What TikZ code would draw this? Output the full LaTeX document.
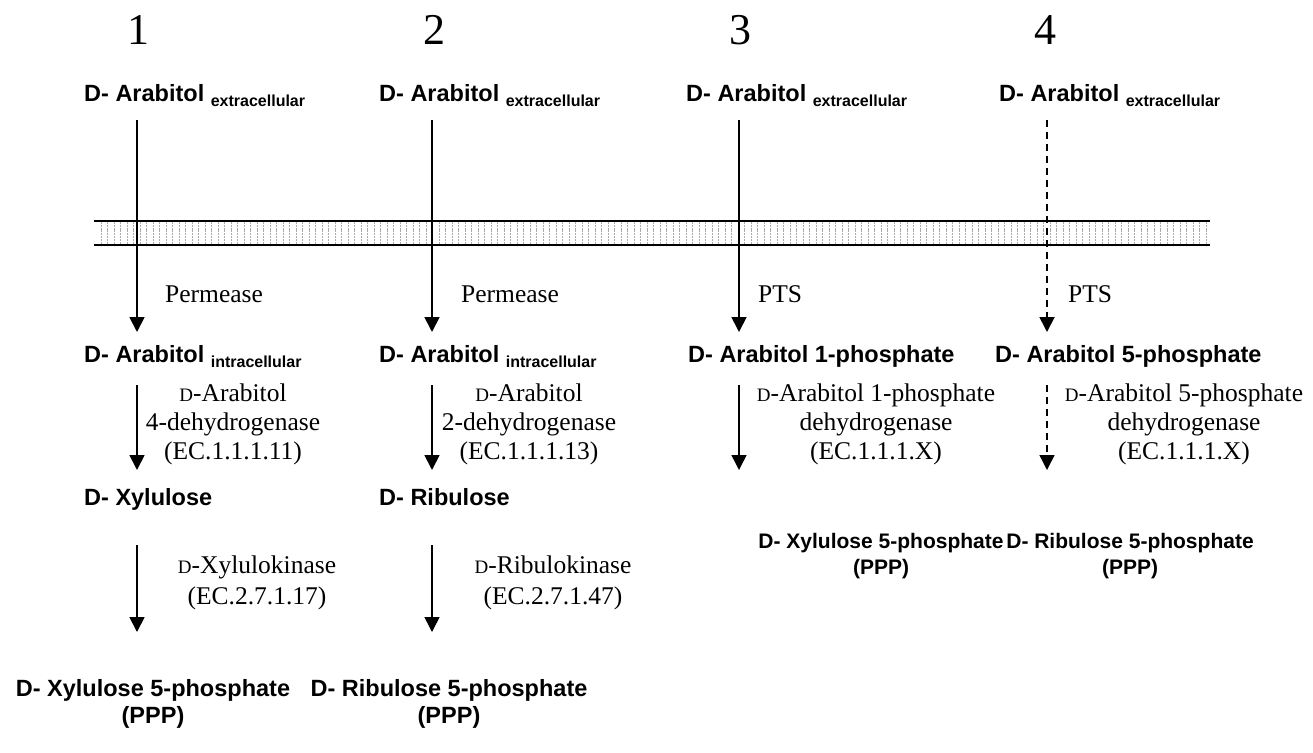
\documentclass[tikz,border=0pt]{standalone}
\usepackage{fontspec}
\setmainfont{Liberation Serif}
\newfontfamily\hv{Liberation Sans}
\usetikzlibrary{arrows.meta}
\newcommand\sD{{\fontsize{19}{19}\selectfont D}}
\newcommand\sub[1]{\raisebox{-5pt}{\fontsize{16}{16}\selectfont #1}}
\tikzset{
  cmpd/.style={font=\hv\bfseries\fontsize{23.5}{27}\selectfont, inner sep=0pt},
  cmpdc/.style={cmpd, align=center, anchor=north},
  cmpds/.style={font=\hv\bfseries\fontsize{21}{26}\selectfont, inner sep=0pt, align=center, anchor=north},
  enz/.style={font=\fontsize{25.5}{29}\selectfont, inner sep=0pt, align=center, anchor=north},
  kin/.style={font=\fontsize{25.5}{31}\selectfont, inner sep=0pt, align=center, anchor=north},
  num/.style={font=\fontsize{44}{44}\selectfont, inner sep=0pt, anchor=base},
  tlabel/.style={font=\fontsize{25.5}{29}\selectfont, inner sep=0pt, anchor=base west},
  rxn/.style={line width=1.8pt, -{Triangle[width=15pt,length=15pt]}},
  rxnthin/.style={line width=1.5pt, -{Triangle[width=15pt,length=15pt]}},
  dsh/.style={dash pattern=on 7pt off 5pt},
  memline/.style={line width=1.5pt},
  hatch/.style={gray!65, line width=0.8pt, dash pattern=on 2pt off 0.8pt},
}
\begin{document}
\begin{tikzpicture}[x=1pt,y=-1pt]
\useasboundingbox (0,0) rectangle (1313,752);

% column numbers
\node[num] (n1) at (138,45) {1};
\node[num] (n2) at (434,45) {2};
\node[num] (n3) at (740,45) {3};
\node[num] (n4) at (1045,45) {4};

% membrane
\foreach \x in {101,107.5,...,1207} {
  \draw[hatch] (\x,222) -- (\x,244);
}
\coordinate (mL1) at (94,221);
\coordinate (mR1) at (1210,221);
\coordinate (mL2) at (94,245);
\coordinate (mR2) at (1210,245);
\draw[memline] (mL1) -- (mR1);
\draw[memline] (mL2) -- (mR2);

% extracellular
\node[cmpd, anchor=base west] (e1) at (84,101) {D- Arabitol \sub{extracellular}};
\node[cmpd, anchor=base west] (e2) at (379,101) {D- Arabitol \sub{extracellular}};
\node[cmpd, anchor=base west] (e3) at (686,101) {D- Arabitol \sub{extracellular}};
\node[cmpd, anchor=base west] (e4) at (999,101) {D- Arabitol \sub{extracellular}};

% transport arrows
\coordinate (t1s) at (137,120); \coordinate (t1e) at (137,332);
\coordinate (t2s) at (432,120); \coordinate (t2e) at (432,332);
\coordinate (t3s) at (739,120); \coordinate (t3e) at (739,332);
\coordinate (t4s) at (1047,120); \coordinate (t4e) at (1047,332);
\draw[rxn] (t1s) -- (t1e);
\draw[rxn] (t2s) -- (t2e);
\draw[rxn] (t3s) -- (t3e);
\draw[rxn, dsh] (t4s) -- (t4e);

\node[tlabel] (l1) at (165,302) {Permease};
\node[tlabel] (l2) at (461,302) {Permease};
\node[tlabel] (l3) at (758,302) {PTS};
\node[tlabel] (l4) at (1068,302) {PTS};

% intracellular compounds
\node[cmpd, anchor=base west] (i1) at (84,362) {D- Arabitol \sub{intracellular}};
\node[cmpd, anchor=base west] (i2) at (379,362) {D- Arabitol \sub{intracellular}};
\node[cmpd, anchor=base west] (i3) at (688,362) {D- Arabitol 1-phosphate};
\node[cmpd, anchor=base west] (i4) at (995,362) {D- Arabitol 5-phosphate};

% dehydrogenase arrows
\coordinate (d1s) at (137,385); \coordinate (d1e) at (137,470);
\coordinate (d2s) at (432,385); \coordinate (d2e) at (432,470);
\coordinate (d3s) at (739,385); \coordinate (d3e) at (739,470);
\coordinate (d4s) at (1047,385); \coordinate (d4e) at (1047,470);
\draw[rxn] (d1s) -- (d1e);
\draw[rxn] (d2s) -- (d2e);
\draw[rxnthin] (d3s) -- (d3e);
\draw[rxnthin, dsh] (d4s) -- (d4e);

\node[enz] (z1) at (233,384) {\sD-Arabitol\\4-dehydrogenase\\(EC.1.1.1.11)};
\node[enz] (z2) at (529,384) {\sD-Arabitol\\2-dehydrogenase\\(EC.1.1.1.13)};
\node[enz] (z3) at (876,384) {\sD-Arabitol 1-phosphate\\dehydrogenase\\(EC.1.1.1.X)};
\node[enz] (z4) at (1184,384) {\sD-Arabitol 5-phosphate\\dehydrogenase\\(EC.1.1.1.X)};

% products of dehydrogenases
\node[cmpd, anchor=base west] (x1) at (84,505) {D- Xylulose};
\node[cmpd, anchor=base west] (r2) at (379,505) {D- Ribulose};
\node[cmpds] (x3) at (881,533) {D- Xylulose 5-phosphate\\(PPP)};
\node[cmpds] (r4) at (1130,533) {D- Ribulose 5-phosphate\\(PPP)};

% kinase arrows
\coordinate (k1s) at (137,545); \coordinate (k1e) at (137,632);
\coordinate (k2s) at (432,545); \coordinate (k2e) at (432,632);
\draw[rxn] (k1s) -- (k1e);
\draw[rxnthin] (k2s) -- (k2e);

\node[kin] (q1) at (257,556) {\sD-Xylulokinase\\(EC.2.7.1.17)};
\node[kin] (q2) at (553,556) {\sD-Ribulokinase\\(EC.2.7.1.47)};

% final products
\node[cmpdc] (x5) at (153,679) {D- Xylulose 5-phosphate\\(PPP)};
\node[cmpdc] (r5) at (449,679) {D- Ribulose 5-phosphate\\(PPP)};
\end{tikzpicture}
\end{document}
